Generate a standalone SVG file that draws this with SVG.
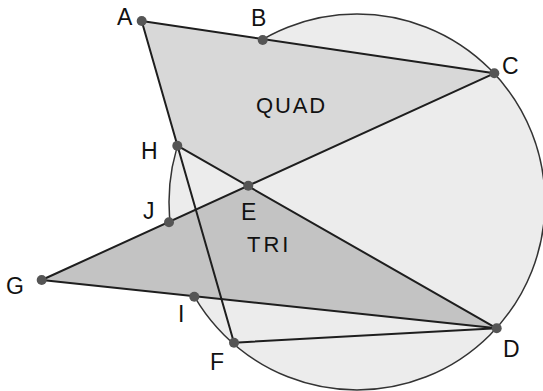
<svg xmlns="http://www.w3.org/2000/svg" width="543" height="391" viewBox="0 0 543 391">
  <style>
    .lbl { font-family: "Liberation Sans", Arial, sans-serif; font-size: 23px; fill: #111; }
    .reg { font-family: "Liberation Sans", Arial, sans-serif; font-size: 22px; fill: #111; }
    .pt { fill: #555; }
    .edge { stroke: #1e1e1e; stroke-width: 2; fill: none; stroke-linecap: round; }
  </style>
  <rect width="543" height="391" fill="#fff"/>
  <g id="circle">
    <circle cx="357" cy="202" r="188" fill="#ececec" stroke="#333" stroke-width="1.5"/>
  </g>
  <g id="quad">
    <polygon points="141.7,21 494.3,73.3 248.3,185.7 177.3,145.7" fill="#d8d8d8"/>
    <text class="reg" x="256" y="113" letter-spacing="1.9">QUAD</text>
  </g>
  <g id="tri">
    <polygon points="41.7,280 248.3,185.7 496.7,328.3" fill="#c3c3c3"/>
    <text class="reg" x="247" y="252" letter-spacing="3">TRI</text>
  </g>
  <g id="connectors">
    <line class="edge" x1="141.7" y1="21" x2="494.3" y2="73.3"/>
    <line class="edge" x1="141.7" y1="21" x2="234" y2="342.7"/>
    <line class="edge" x1="41.7" y1="280" x2="494.3" y2="73.3"/>
    <line class="edge" x1="177.3" y1="145.7" x2="496.7" y2="328.3"/>
    <line class="edge" x1="41.7" y1="280" x2="496.7" y2="328.3"/>
    <line class="edge" x1="234" y1="342.7" x2="496.7" y2="328.3"/>
  </g>
  <g id="A"><circle class="pt" cx="141.7" cy="21" r="5"/><text class="lbl" x="117" y="25">A</text></g>
  <g id="B"><circle class="pt" cx="262.7" cy="40" r="5"/><text class="lbl" x="251" y="26">B</text></g>
  <g id="C"><circle class="pt" cx="494.3" cy="73.3" r="5"/><text class="lbl" x="502" y="74">C</text></g>
  <g id="D"><circle class="pt" cx="496.7" cy="328.3" r="5"/><text class="lbl" x="503" y="357">D</text></g>
  <g id="E"><circle class="pt" cx="248.3" cy="185.7" r="5"/><text class="lbl" x="241" y="220">E</text></g>
  <g id="F"><circle class="pt" cx="234" cy="342.7" r="5"/><text class="lbl" x="210" y="370">F</text></g>
  <g id="G"><circle class="pt" cx="41.7" cy="280" r="5"/><text class="lbl" x="6" y="294">G</text></g>
  <g id="H"><circle class="pt" cx="177.3" cy="145.7" r="5"/><text class="lbl" x="141" y="159">H</text></g>
  <g id="I"><circle class="pt" cx="194.3" cy="296.7" r="5"/><text class="lbl" x="178" y="322">I</text></g>
  <g id="J"><circle class="pt" cx="169" cy="222.3" r="5"/><text class="lbl" x="143" y="219">J</text></g>
</svg>
